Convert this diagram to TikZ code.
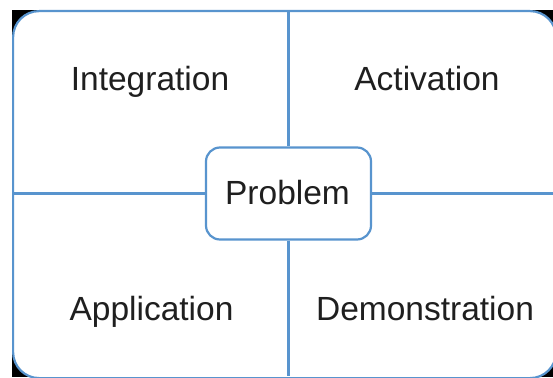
\documentclass[tikz,border=0pt]{standalone}
\usepackage{fontspec}
\setmainfont{Liberation Sans}
\definecolor{rule}{RGB}{88,148,206}
\begin{document}
\begin{tikzpicture}[x=1pt,y=-1pt,
  edge/.style={draw=rule, line width=2.2pt},
  label/.style={font=\fontsize{33.5}{40}\selectfont, text=black!88, anchor=base, inner sep=0pt},
  hub/.style={draw=rule, line width=2.2pt, fill=white,
    rounded corners=14pt, minimum width=165pt, minimum height=92pt, inner sep=0pt}]
  \useasboundingbox (0,0) rectangle (553,377);
  \fill[white] (0,0) rectangle (553,377);
  \begin{scope}
    \clip (0,0) rectangle (553,377);
    % dark backing that shows at the rounded corners
    \fill[black] (12,10) rectangle (553,377);
    \node[draw=rule, line width=2.2pt, fill=white,
      rounded corners=26pt, minimum width=543pt, minimum height=367pt,
      inner sep=0pt, anchor=north west] (frame) at (12,10) {};
  \end{scope}
  \node[hub] (problem) at (288.5,193.5) {};
  \coordinate (top) at (288.5,11);
  \coordinate (bottom) at (288.5,376);
  \coordinate (left) at (13,193.5);
  \coordinate (right) at (553,193.5);
  \draw[edge] (top) -- (problem.north);
  \draw[edge] (problem.south) -- (bottom);
  \draw[edge] (left) -- (problem.west);
  \draw[edge] (problem.east) -- (right);
  \node[label] (ptext) at (287.5,204) {Problem};
  \node[label] (integration) at (150,90.7) {Integration};
  \node[label] (activation) at (427,90.7) {Activation};
  \node[label] (application) at (151.5,320.7) {Application};
  \node[label] (demonstration) at (425,320.7) {Demonstration};
\end{tikzpicture}
\end{document}
